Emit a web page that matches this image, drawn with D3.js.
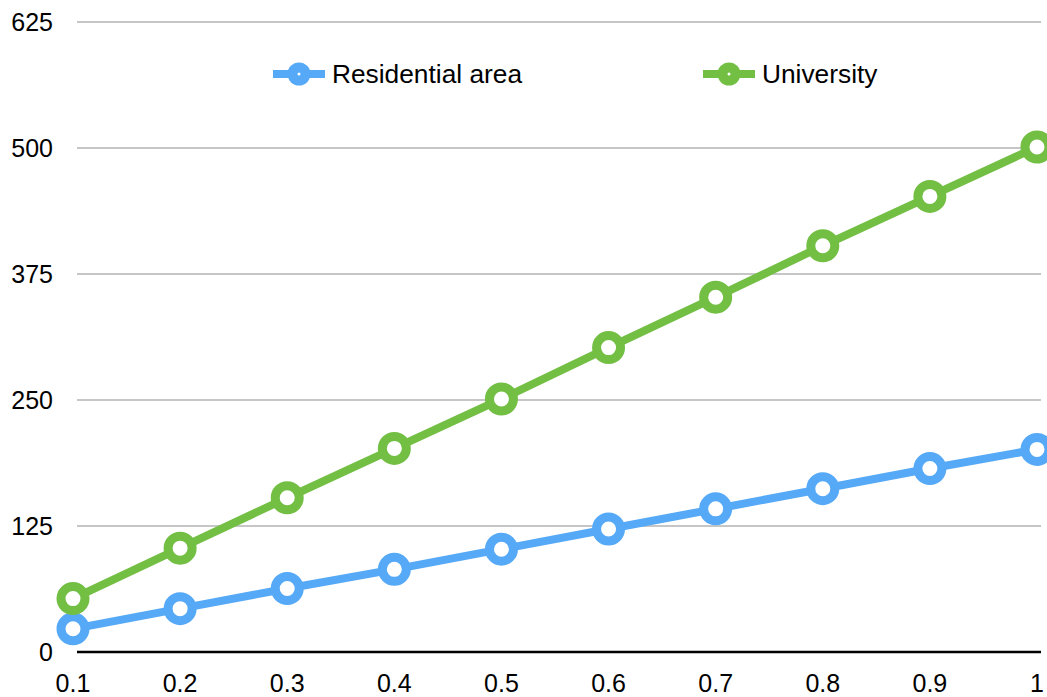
<!DOCTYPE html>
<html><head><meta charset="utf-8">
<script src="https://cdn.jsdelivr.net/npm/d3@7/dist/d3.min.js"></script>
<style>body{margin:0;background:#fff}svg{display:block;font-family:"Liberation Sans",Arial,sans-serif}</style>
</head><body><svg id="c" width="1047" height="697"></svg>
<script>
const xValues = [0.1,0.2,0.3,0.4,0.5,0.6,0.7,0.8,0.9,1];
const residential = [23,43,63,82,102,122,142,162,182,201];
const university = [53,103,153,202,251,302,352,403,452,501];
const yTicks = [0,125,250,375,500,625];
const xTickLabels = ["0.1","0.2","0.3","0.4","0.5","0.6","0.7","0.8","0.9","1"];
const seriesNames = ["Residential area","University"];
const colors = ["#55A9F7","#72BF44"];

const svg = d3.select("#c");
const x = d3.scaleLinear().domain([0.1,1]).range([73,1037]);
const y = d3.scaleLinear().domain([0,625]).range([652,22]);

// gridlines
svg.append("g").selectAll("line").data(yTicks.filter(d=>d>0)).join("line")
  .attr("x1",77).attr("x2",1041).attr("y1",d=>y(d)).attr("y2",d=>y(d))
  .attr("stroke","#b3b3b3").attr("stroke-width",1.5);
// axis line
svg.append("line").attr("x1",77).attr("x2",1041).attr("y1",y(0)).attr("y2",y(0))
  .attr("stroke","#000").attr("stroke-width",2.5);

// y labels
svg.append("g").selectAll("text").data(yTicks).join("text")
  .attr("x",53).attr("y",d=>y(d)+9).attr("text-anchor","end")
  .attr("font-size",25).attr("fill","#000").text(d=>d);
// x labels
svg.append("g").selectAll("text").data(xValues).join("text")
  .attr("x",d=>x(d)).attr("y",692).attr("text-anchor","middle")
  .attr("font-size",25).attr("fill","#000").text((d,i)=>xTickLabels[i]);

const data = [residential, university];
const line = d3.line().x((d,i)=>x(xValues[i])).y(d=>y(d));
data.forEach((vals,k)=>{
  const g = svg.append("g");
  g.append("path").datum(vals).attr("d",line).attr("fill","none")
    .attr("stroke",colors[k]).attr("stroke-width",8).attr("stroke-linejoin","round");
  g.selectAll("circle").data(vals).join("circle")
    .attr("cx",(d,i)=>x(xValues[i])).attr("cy",d=>y(d)).attr("r",12)
    .attr("fill","#fff").attr("stroke",colors[k]).attr("stroke-width",9);
});

// legend
const legX = [273,703];
seriesNames.forEach((name,k)=>{
  const g = svg.append("g").attr("transform",`translate(${legX[k]},74)`);
  g.append("line").attr("x1",0).attr("x2",52).attr("y1",0).attr("y2",0)
    .attr("stroke",colors[k]).attr("stroke-width",8);
  g.append("circle").attr("cx",26).attr("cy",0).attr("r",11.5).attr("fill",colors[k]);
  g.append("circle").attr("cx",26).attr("cy",0).attr("r",1.5).attr("fill","#fff");
  g.append("text").attr("x",59).attr("y",9).attr("font-size",26.3).attr("fill","#000").text(name);
});
</script></body></html>
